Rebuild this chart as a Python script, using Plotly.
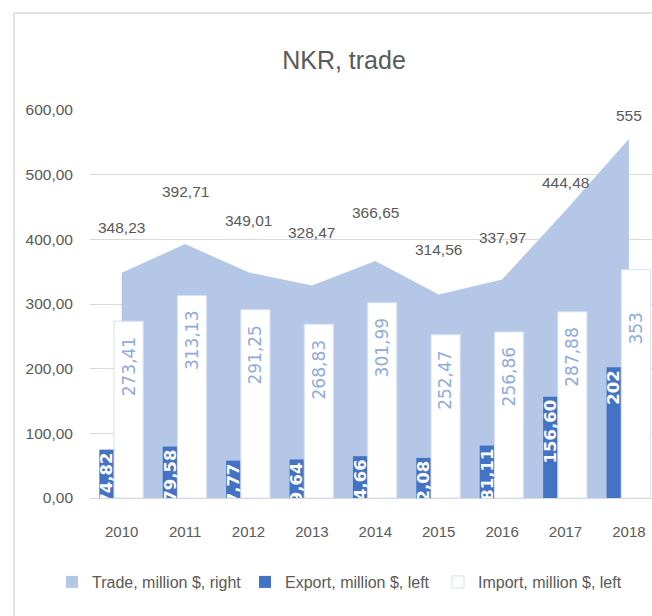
import plotly.graph_objects as go

years = ["2010", "2011", "2012", "2013", "2014", "2015", "2016", "2017", "2018"]
trade = [348.23, 392.71, 349.01, 328.47, 366.65, 314.56, 337.97, 444.48, 555]
export = [74.82, 79.58, 57.77, 59.64, 64.66, 62.08, 81.11, 156.60, 202]
imports = [273.41, 313.13, 291.25, 268.83, 301.99, 252.47, 256.86, 287.88, 353]
y_ticks = [0, 100, 200, 300, 400, 500, 600]

# styling (not data)
trade_label_lift = [45, 53, 52, 53, 48, 45, 42, 28, 24]
FONT = "Liberation Sans, Arial, sans-serif"
GREY = "#595959"
TRADE_COLOR = "#B4C7E7"
EXP_OFF, EXP_W = -0.353, 0.232
IMP_OFF, IMP_W = -0.121, 0.46
PL, PT, PB = 90, 110, 498          # plot left, top (600) and bottom (0) in px
W, H = 652, 616
PW = W - PL
PH = PB - PT


def fmt(v):
    return str(int(v)) if float(v).is_integer() else f"{v:.2f}".replace(".", ",")


fig = go.Figure()

fig.add_trace(go.Scatter(
    x=years, y=trade, mode="none", fill="tozeroy",
    fillcolor=TRADE_COLOR, name="Trade, million $, right",
    yaxis="y", hoverinfo="skip", showlegend=False,
))
# legend proxy so the Trade entry shows a square swatch
fig.add_trace(go.Bar(
    x=[years[0]], y=[None], name="Trade, million $, right", yaxis="y2",
    marker=dict(color=TRADE_COLOR, line=dict(width=0)), hoverinfo="skip",
))
fig.add_trace(go.Bar(
    x=years, y=export, name="Export, million $, left", yaxis="y2",
    marker=dict(color="#4472C4", line=dict(width=0)),
    offset=EXP_OFF, width=EXP_W,
    text=[fmt(v) for v in export], textposition="inside",
    insidetextanchor="end", textangle=-90, constraintext="none",
    cliponaxis=True,
    textfont=dict(family="DejaVu Sans", size=16.5, color="white", weight="bold"),
))
fig.add_trace(go.Bar(
    x=years, y=imports, name="Import, million $, left", yaxis="y2",
    marker=dict(color="white", line=dict(color="#D6E0F0", width=1)),
    offset=IMP_OFF, width=IMP_W,
))

annotations = []
for i, v in enumerate(trade):
    annotations.append(dict(
        x=i, y=v, xref="x", yref="y", text=fmt(v), showarrow=False,
        yanchor="middle", xanchor="center", yshift=trade_label_lift[i],
        font=dict(family=FONT, size=15.5, color=GREY),
    ))
for i, v in enumerate(imports):
    annotations.append(dict(
        x=i + IMP_OFF + IMP_W / 2, y=v, xref="x", yref="y2", text=fmt(v),
        showarrow=False, textangle=-90, yanchor="bottom", xanchor="center",
        yshift=-77,
        font=dict(family="DejaVu Sans", size=17, color="#8FAADC"),
    ))

border = dict(color="#D9D9D9", width=1.5)
fig.update_layout(
    width=W, height=H,
    margin=dict(l=PL, r=0, t=PT, b=H - PB),
    paper_bgcolor="white", plot_bgcolor="white",
    separators=",.",
    barmode="overlay",
    title=dict(text="NKR, trade", x=344 / W, xanchor="center", y=1 - 60 / H,
               yanchor="middle", yref="container",
               font=dict(family=FONT, size=25, color=GREY)),
    xaxis=dict(type="category", range=[-0.5, 8.5 - 8.6 / 63.4],
               showgrid=False, showline=True, linecolor="#D9D9D9", linewidth=1,
               ticks="", ticklabelstandoff=20,
               tickfont=dict(family=FONT, size=15, color=GREY)),
    yaxis=dict(range=[0, 600], tickvals=y_ticks, tickformat=".2f",
               showgrid=True, gridcolor="#D9D9D9", gridwidth=1,
               zeroline=False, showline=False, ticks="",
               ticklabelstandoff=16,
               tickfont=dict(family=FONT, size=15.5, color=GREY)),
    yaxis2=dict(range=[0, 600], overlaying="y", side="left", visible=False,
                showgrid=False, zeroline=False),
    legend=dict(orientation="h", x=(52 - PL) / PW, xanchor="left",
                y=(PB - 582) / PH, yanchor="middle",
                font=dict(family=FONT, size=16, color=GREY),
                traceorder="normal", entrywidth=148, entrywidthmode="pixels",
                itemwidth=30),
    annotations=annotations,
    shapes=[
        dict(type="line", xref="paper", yref="paper",
             x0=(14 - PL) / PW, x1=(14 - PL) / PW, y0=(PB - H - 20) / PH, y1=(PB - 13) / PH,
             line=border, layer="below"),
        dict(type="line", xref="paper", yref="paper",
             x0=(14 - PL) / PW, x1=1.0, y0=(PB - 13) / PH, y1=(PB - 13) / PH,
             line=border, layer="below"),
    ],
    showlegend=True,
)

fig.write_html(
    "out.html",
    config={"displayModeBar": False},
    post_script=(
        "document.body.style.margin='0';document.body.style.overflow='hidden';"
        "document.documentElement.style.overflow='hidden';"
    ),
)
